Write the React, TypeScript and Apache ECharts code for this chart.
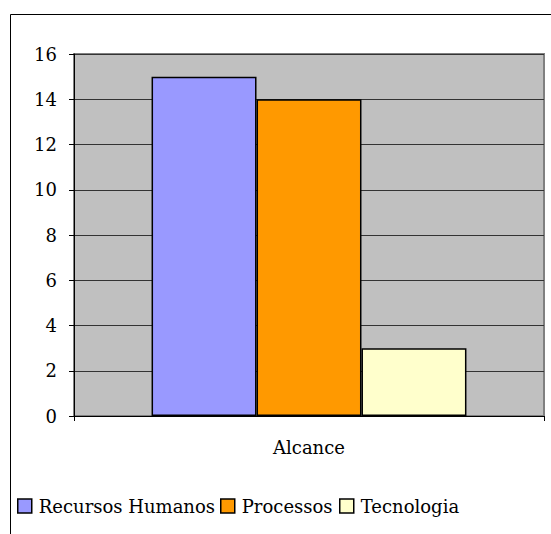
import React, { useEffect, useRef } from "react";
import * as echarts from "echarts";

const categories = ["Alcance"];
const seriesNames = ["Recursos Humanos", "Processos", "Tecnologia"];
const seriesValues = [[15], [14], [3]];
const seriesColors = ["#9999FF", "#FF9900", "#FFFFCC"];
const yTicks = { min: 0, max: 16, interval: 2 };
const legendLefts = [17, 220, 339];

const FONT = "DejaVu Serif";
const FS = 18;

export default function App() {
  const ref = useRef<HTMLDivElement>(null);
  useEffect(() => {
    if (!ref.current) return;
    const chart = echarts.init(ref.current, null, { renderer: "svg" });
    chart.setOption({
      animation: false,
      backgroundColor: "#ffffff",
      textStyle: { fontFamily: FONT },
      graphic: [
        {
          type: "rect",
          shape: { x: 10.5, y: 14.5, width: 700, height: 700 },
          style: { fill: "none", stroke: "#000", lineWidth: 1 },
          z: -1,
        },
      ],
      grid: {
        left: 74,
        top: 54,
        right: 7,
        bottom: 118,
        show: true,
        backgroundColor: "#C0C0C0",
        borderColor: "#808080",
        borderWidth: 2,
      },
      legend: seriesNames.map((name, i) => ({
        left: legendLefts[i],
        top: 497,
        padding: 0,
        itemWidth: 14,
        itemHeight: 14,
        icon: "rect",
        itemStyle: { borderColor: "#000", borderWidth: 1.5 },
        textStyle: { fontFamily: FONT, fontSize: FS, color: "#000", padding: [0, 0, 0, 2] },
        data: [name],
      })),
      xAxis: {
        type: "category",
        data: categories,
        axisLine: { lineStyle: { color: "#000", width: 1 } },
        axisTick: { show: true, length: 5, lineStyle: { color: "#000" } },
        axisLabel: { fontFamily: FONT, fontSize: FS, color: "#000", margin: 22 },
      },
      yAxis: {
        type: "value",
        min: yTicks.min,
        max: yTicks.max,
        interval: yTicks.interval,
        axisLine: { show: true, lineStyle: { color: "#000", width: 1 } },
        axisTick: { show: true, length: 5, lineStyle: { color: "#000" } },
        axisLabel: { fontFamily: FONT, fontSize: FS, color: "#000", margin: 17 },
        splitLine: { show: true, lineStyle: { color: "#333", width: 1 } },
      },
      series: seriesNames.map((name, i) => ({
        name,
        type: "bar",
        data: seriesValues[i],
        barGap: "0%",
        barCategoryGap: "33%",
        itemStyle: { color: seriesColors[i], borderColor: "#000", borderWidth: 1.5 },
      })),
    });
    return () => chart.dispose();
  }, []);
  return (
    <div
      ref={ref}
      style={{ position: "fixed", left: 0, top: 0, width: 551, height: 534 }}
    />
  );
}
